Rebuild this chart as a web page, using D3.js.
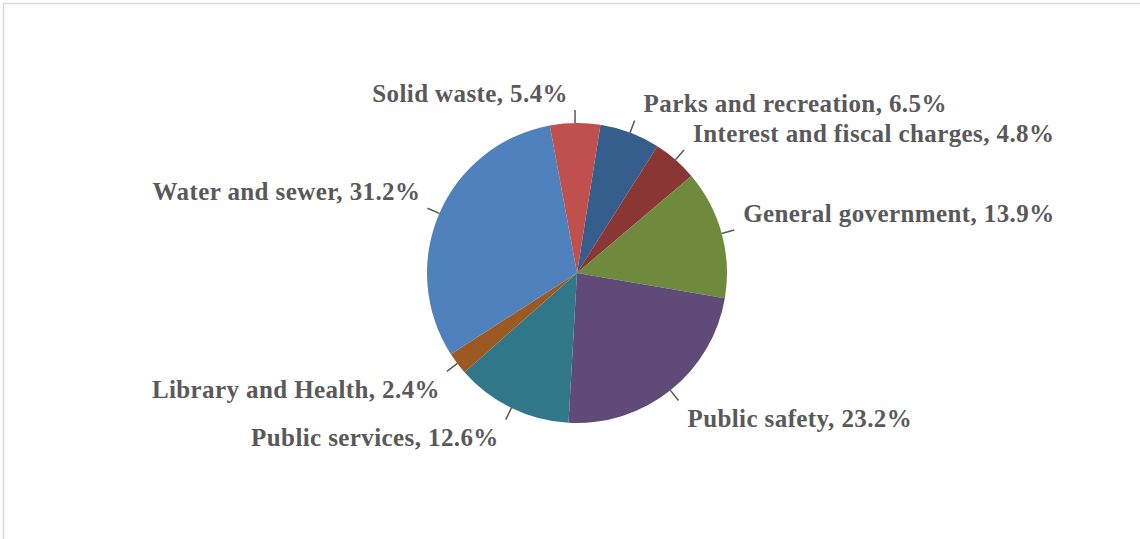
<!DOCTYPE html>
<html>
<head>
<meta charset="utf-8">
<script src="https://cdn.jsdelivr.net/npm/d3@7"></script>
<style>
  html, body { margin: 0; padding: 0; background: #fff; }
  svg { display: block; }
</style>
</head>
<body>
<svg id="chart" width="1140" height="539"></svg>
<script>
// slices, clockwise from the first one after 12 o'clock
var categories = ["Parks and recreation", "Interest and fiscal charges", "General government",
    "Public safety", "Public services", "Library and Health", "Water and sewer", "Solid waste"];
var values = [6.5, 4.8, 13.9, 23.2, 12.6, 2.4, 31.2, 5.4];
var colors = ["#365e8c", "#8a3634", "#6f8a3d", "#5f4a78", "#31778a", "#9c5a22", "#4f81bd", "#c0504d"];

var W = 1140, H = 539;
var cx = 577, cy = 273, R = 150;
var START = 9 * Math.PI / 180;

var svg = d3.select("#chart");

// frame of the chart area (only top + left edge show)
svg.append("path")
    .attr("d", "M3.5," + H + "V3.5H" + W)
    .style("fill", "none")
    .style("stroke", "#d9d9d9")
    .style("stroke-width", 1.5);

var data = categories.map(function (c, i) { return { name: c, value: values[i], color: colors[i] }; });

var pie = d3.pie()
    .sort(null)
    .value(function (d) { return d.value; })
    .startAngle(START)
    .endAngle(START + 2 * Math.PI);

var arc = d3.arc().innerRadius(0).outerRadius(R);

var g = svg.append("g").attr("transform", "translate(" + cx + "," + cy + ")");
var arcs = pie(data);

g.selectAll("path.slice")
    .data(arcs)
    .enter().append("path")
    .attr("class", "slice")
    .attr("d", arc)
    .style("fill", function (d) { return d.data.color; });

function mid(d) { return (d.startAngle + d.endAngle) / 2; }
function pt(a, r) { return [Math.sin(a) * r, -Math.cos(a) * r]; }

// leader lines
g.selectAll("line.leader")
    .data(arcs)
    .enter().append("line")
    .attr("class", "leader")
    .attr("x1", function (d) { return pt(mid(d), R)[0]; })
    .attr("y1", function (d) { return pt(mid(d), R)[1]; })
    .attr("x2", function (d) { return pt(mid(d), R + 13)[0]; })
    .attr("y2", function (d) { return pt(mid(d), R + 13)[1]; })
    .style("stroke", "#595959")
    .style("stroke-width", 1.5);

// labels sit at a corner off the end of the leader
g.selectAll("text.lbl")
    .data(arcs)
    .enter().append("text")
    .attr("class", "lbl")
    .attr("x", function (d) {
        var p = pt(mid(d), R + 13);
        return Math.sin(mid(d)) > 0 ? p[0] + 9 : p[0] - 7;
    })
    .attr("y", function (d) {
        var p = pt(mid(d), R + 13);
        return Math.cos(mid(d)) > 0 ? p[1] - 17 : p[1] + 18;
    })
    .attr("dy", "0.35em")
    .attr("text-anchor", function (d) { return Math.sin(mid(d)) > 0 ? "start" : "end"; })
    .style("font-family", "'Liberation Serif', 'Times New Roman', serif")
    .style("font-weight", "bold")
    .style("font-size", "25px")
    .style("letter-spacing", "0.4px")
    .style("fill", "#595959")
    .text(function (d) { return d.data.name + ", " + d3.format(".1f")(d.data.value) + "%"; });
</script>
</body>
</html>
